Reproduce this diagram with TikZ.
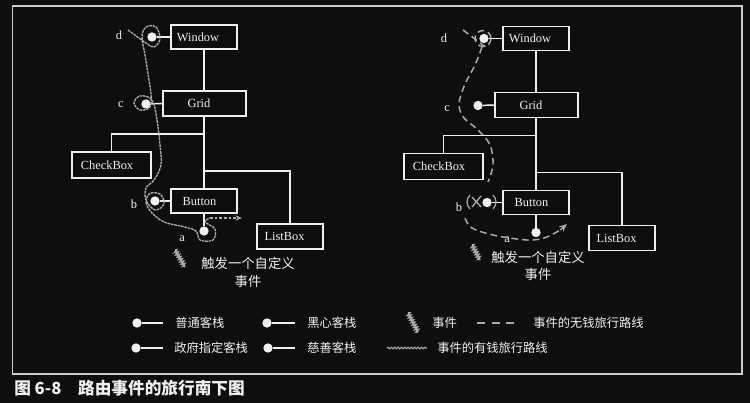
\documentclass[tikz,border=0pt]{standalone}
\usepackage{fontspec}
\setmainfont{Liberation Serif}
\newfontfamily\cjk{Noto Sans CJK SC}
\usetikzlibrary{decorations.pathmorphing,arrows.meta}
\definecolor{bg}{HTML}{0E0E0E}
\definecolor{fg}{HTML}{F0F0F0}
\definecolor{trail}{HTML}{ABABAB}
\tikzset{
  box/.style={draw=fg, line width=1.2pt, inner sep=0pt},
  boxtext/.style={text=fg, inner sep=0pt, font=\fontsize{9.3}{10}\selectfont},
  port/.style={circle, fill=fg, inner sep=0pt, minimum size=7pt},
  wire/.style={draw=fg, line width=1.1pt},
  rich/.style={draw=trail, line width=1pt, dash pattern=on 2pt off 0.6pt},
  richleg/.style={draw=trail, line width=0.8pt, decorate, decoration={snake, amplitude=0.6pt, segment length=2.5pt}},
  poor/.style={draw=trail, line width=1.1pt, dash pattern=on 5pt off 3pt},
  evt/.style={draw=trail, line width=1.2pt, decorate, decoration={zigzag, amplitude=1.2pt, segment length=2pt}},
  lbl/.style={text=fg, font=\fontsize{9.3}{10}\selectfont, inner sep=0pt},
  cjklbl/.style={text=fg, font=\cjk\fontsize{9.2}{11}\selectfont, inner sep=0pt, anchor=west},
  cjkbig/.style={text=fg, font=\cjk\fontsize{10}{12}\selectfont, inner sep=0pt},
}
\newcommand\drawtree[1]{%
  \node[box, minimum width=49.5pt, minimum height=18pt] (#1win) at (204,37) {};
  \node[boxtext] (#1wint) at (198,37) {Window};
  \node[box, minimum width=62.25pt, minimum height=18.75pt] (#1grid) at (204.5,103.5) {};
  \node[boxtext] (#1gridt) at (199,103.5) {Grid};
  \node[box, minimum width=59.25pt, minimum height=19.5pt] (#1chk) at (111.5,165) {};
  \node[boxtext] (#1chkt) at (107,165) {CheckBox};
  \node[box, minimum width=49.5pt, minimum height=18pt] (#1btn) at (204,201) {};
  \node[boxtext] (#1btnt) at (199.5,201) {Button};
  \node[box, minimum width=49.5pt, minimum height=18.75pt] (#1lst) at (290,236.5) {};
  \node[boxtext] (#1lstt) at (284.5,236.5) {ListBox};
  \coordinate (#1j1) at (204,134);
  \coordinate (#1j2) at (204,171);
  \draw[wire] (#1win.south) -- (#1grid.north -| #1win.south);
  \draw[wire] (#1grid.south -| #1j1) -- (#1j1) -| (#1chk.north);
  \draw[wire] (#1j1) -- (#1btn.north -| #1j1);
  \draw[wire] (#1j2) -| (#1lst.north);
  \node[port] (#1pd) at (152,37) {};
  \node[port] (#1pc) at (146,104) {};
  \node[port] (#1pb) at (155,201) {};
  \node[port] (#1pa) at (204,231) {};
  \draw[wire] (#1pd) -- (#1win.west);
  \draw[wire] (#1pc) -- (#1grid.west);
  \draw[wire] (#1pb) -- (#1btn.west);
  \draw[wire] (#1pa) -- (#1pa |- #1btn.south);
}
\begin{document}
\begin{tikzpicture}[x=0.75pt,y=-0.75pt]
\fill[bg] (0,0) rectangle (750,403);
\useasboundingbox (0,0) rectangle (750,403);
\draw[fg!85!black, line width=1.1pt] (12.5,6) rectangle (742,374);

% left diagram
\drawtree{L}
\node[lbl] (Lld) at (119,35) {d};
\node[lbl] (Llc) at (121,105) {c};
\node[lbl] (Llb) at (134,204) {b};
\node[lbl] (Lla) at (182,239) {a};
\draw[rich] plot[smooth, tension=0.6] coordinates {(128,30) (146,43) (154,47) (160,39) (156,27) (146,27) (142,37) (145,55) (149,80) (151,94) (150,107) (140,110) (134,103) (140,96) (152,100) (157,120) (160,145) (161,165) (154,180) (146,188) (146,200) (155,210) (164,204) (160,194) (149,194) (147,206) (162,221) (185,227) (196,231) (200,240) (213,240) (215,229) (205,222) (210,218)};
\draw[trail, line width=0.9pt, dash pattern=on 2pt off 1.5pt, -{Stealth[length=5pt,width=4pt]}] (210,218) -- (242,218);
\draw[evt] (175,250) -- (185,267);
\node[cjkbig] (Lt1) at (248,263) {触发一个自定义};
\node[cjkbig] (Lt2) at (248,281) {事件};

% right diagram
\begin{scope}[shift={(332,1.5)}]
\drawtree{R}
\end{scope}
\node[lbl] (Rld) at (444,38) {d};
\node[lbl] (Rlc) at (447,109) {c};
\node[lbl] (Rlb) at (459,207) {b};
\node[lbl] (Rla) at (507,240) {a};
\draw[poor] (463,30) -- (487,48);
\draw[poor] (483,38.5) circle (8);
\draw[poor] plot[smooth, tension=0.6] coordinates {(482,47) (475,65) (466,82) (461,95) (459,106) (464,118) (478,130) (490,145) (493,165) (488,182)};
\draw[trail, line width=1pt] (472,197) -- (481,207) (472,207) -- (481,196);
\draw[trail, line width=0.9pt] (470,195) .. controls (466,199) and (466,205) .. (470,209);
\draw[trail, line width=0.9pt] (493,195) .. controls (497,199) and (497,205) .. (493,209);
\draw[poor] plot[smooth, tension=0.6] coordinates {(465,218) (472,228) (493,235) (517,239) (533,240) (547,237) (560,230)};
\draw[trail, line width=1pt, -{Stealth[length=6pt,width=5pt]}] (560,230) -- (567,224);
\draw[evt] (472,245) -- (480,260);
\node[cjkbig] (Rt1) at (538,257) {触发一个自定义};
\node[cjkbig] (Rt2) at (538,274) {事件};

% legend
\node[port] (k1) at (137,323) {};
\coordinate (k1e) at (163,323);
\draw[wire] (k1) -- (k1e);
\node[cjklbl] (k1t) at (175,323) {普通客栈};
\node[port] (k2) at (267,323) {};
\coordinate (k2e) at (295,323);
\draw[wire] (k2) -- (k2e);
\node[cjklbl] (k2t) at (307,323) {黑心客栈};
\draw[evt] (408,313) -- (418,332);
\node[cjklbl] (k3t) at (432,323) {事件};
\coordinate (k4a) at (477,323);
\coordinate (k4b) at (520,323);
\draw[poor, dash pattern=on 6pt off 5pt] (k4a) -- (k4b);
\node[cjklbl] (k4t) at (533,323) {事件的无钱旅行路线};
\node[port] (k5) at (136,348) {};
\coordinate (k5e) at (163,348);
\draw[wire] (k5) -- (k5e);
\node[cjklbl] (k5t) at (174,348) {政府指定客栈};
\node[port] (k6) at (268,348) {};
\coordinate (k6e) at (295,348);
\draw[wire] (k6) -- (k6e);
\node[cjklbl] (k6t) at (307,348) {慈善客栈};
\coordinate (k7a) at (387,348);
\coordinate (k7b) at (427,348);
\draw[richleg] (k7a) -- (k7b);
\node[cjklbl] (k7t) at (437,348) {事件的有钱旅行路线};

% caption
\node[anchor=west, text=fg, inner sep=0pt, font=\cjk\bfseries\fontsize{12.5}{14}\selectfont] (cap) at (14,388) {图 6-8\hspace{1em}路由事件的旅行南下图};
\end{tikzpicture}
\end{document}
